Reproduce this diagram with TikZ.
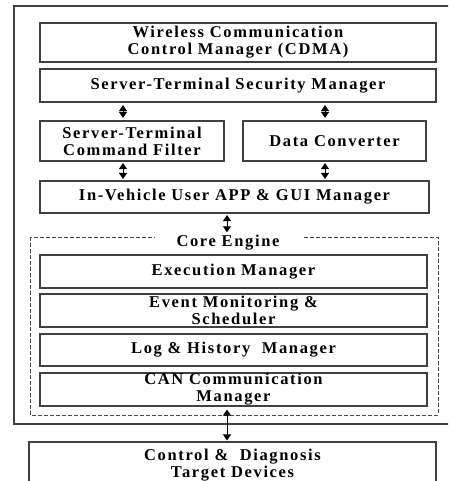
\documentclass[tikz,border=0pt]{standalone}
\usepackage{fontspec}
\setmainfont{Liberation Serif}[LetterSpace=10]
\usetikzlibrary{arrows.meta}
\begin{document}
\begin{tikzpicture}[x=1pt,y=-1pt,
  every node/.style={font=\fontsize{16.5}{17}\selectfont\bfseries, align=center},
  blk/.style={draw=black!75, line width=1.1pt, inner sep=0pt},
  dbl/.style={line width=1pt, {Triangle[width=8pt,length=6pt]}-{Triangle[width=8pt,length=6pt]}},
  frame/.style={draw=black!75, line width=1.2pt}]
\useasboundingbox (0,0) rectangle (448,481);
\begin{scope}
\clip (0,0) rectangle (448,481);
% outer enclosure, open to the right
\draw[frame] (14,6) rectangle (470,424);
% core engine group
\draw[draw=black!70, line width=1pt, dash pattern=on 4pt off 2pt] (30,237) rectangle (438,415);
\node[fill=white, inner xsep=22pt, inner ysep=3pt] (core) at (228,243) {Core Engine};

\node[blk, minimum width=396pt, minimum height=39pt] (wcm) at (238,42.5) {Wireless Communication\\Control Manager (CDMA)};
\node[blk, minimum width=396pt, minimum height=33pt] (stsm) at (238,85.5) {Server-Terminal Security Manager};
\node[blk, minimum width=184pt, minimum height=40pt] (cf) at (132,141) {Server-Terminal\\Command Filter};
\node[blk, minimum width=183pt, minimum height=40pt] (dc) at (334.5,141) {Data Converter};
\node[blk, minimum width=389pt, minimum height=32pt] (gui) at (234.5,197) {In-Vehicle User APP \& GUI Manager};
\node[blk, minimum width=387pt, minimum height=33pt] (exm) at (233.5,271.5) {Execution Manager};
\node[blk, minimum width=387pt, minimum height=33pt] (evm) at (233.5,310.5) {Event Monitoring \&\\Scheduler};
\node[blk, minimum width=387pt, minimum height=32pt] (log) at (233.5,350) {Log \& History\ \ Manager};
\node[blk, minimum width=387pt, minimum height=33pt] (can) at (233.5,389.5) {CAN Communication\\Manager};
\node[blk, minimum width=407pt, minimum height=46pt] (ctrl) at (232.5,465) {Control \&\ \ Diagnosis\\Target Devices};

\coordinate (ax1) at (123,0);
\coordinate (ax2) at (325,0);
\coordinate (ax3) at (227,0);
\draw[dbl, shorten <=2.5pt, shorten >=2.5pt] (stsm.south -| ax1) -- (cf.north -| ax1);
\draw[dbl, shorten <=2.5pt, shorten >=2.5pt] (stsm.south -| ax2) -- (dc.north -| ax2);
\draw[dbl, shorten <=1.5pt, shorten >=1.5pt] (cf.south -| ax1) -- (gui.north -| ax1);
\draw[dbl, shorten <=1.5pt, shorten >=1.5pt] (dc.south -| ax2) -- (gui.north -| ax2);
\draw[dbl, shorten <=1.5pt, shorten >=0pt] (gui.south -| ax3) -- (core.north -| ax3);
\draw[dbl, shorten <=3pt, shorten >=1pt] (can.south -| ax3) -- (ctrl.north -| ax3);
\end{scope}
\end{tikzpicture}
\end{document}
